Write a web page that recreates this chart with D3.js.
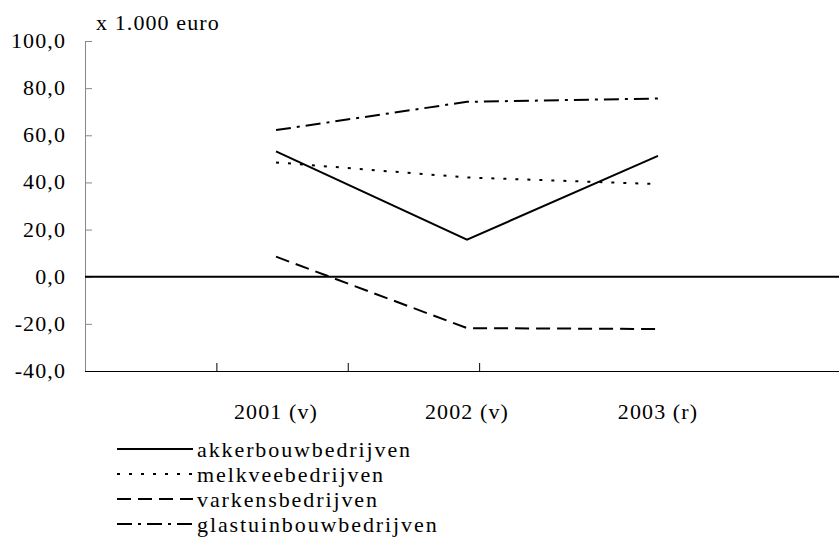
<!DOCTYPE html>
<html>
  <head>
    <meta charset="utf-8">
    <style>
    body { margin: 0; background: #fff; }
    svg { display: block; }
    text { font-family: "Liberation Serif", "Times New Roman", serif; font-size: 22px; fill: #000; letter-spacing: 1.1px; }
    </style>
    <script src="https://d3js.org/d3.v7.min.js"></script>
  </head>
  <body>
    <script type="text/javascript">
    // data
    var years = ["2001 (v)", "2002 (v)", "2003 (r)"];
    var seriesNames = ["akkerbouwbedrijven", "melkveebedrijven", "varkensbedrijven", "glastuinbouwbedrijven"];
    var akkerbouw = [53.2, 15.7, 51.3];
    var melkvee = [48.5, 42.1, 39.3];
    var varkens = [8.5, -21.8, -22.2];
    var glastuinbouw = [62.2, 74.2, 75.6];
    var yTicks = [-40, -20, 0, 20, 40, 60, 80, 100];
    var dashes = [null, "3,9", "14,7", "15,6,3,6"];

    var width = 839, height = 541;
    var plotLeft = 85, plotTop = 41, plotBottom = 371;

    var svg = d3.select("body").append("svg")
      .attr("width", width)
      .attr("height", height);

    var yScale = d3.scaleLinear().domain([-40, 100]).range([plotBottom, plotTop]);
    var xScale = d3.scalePoint().domain(years).range([plotLeft, plotLeft + 764]).padding(1);
    // minor ticks along the bottom edge
    var tickScale = d3.scaleLinear().domain([0, 5.8]).range([plotLeft, plotLeft + 762]);

    // y axis
    var yAxis = svg.append("g")
      .attr("transform", "translate(" + plotLeft + ",0)")
      .call(d3.axisRight(yScale).tickValues(yTicks).tickSize(7).tickFormat(""));
    yAxis.select(".domain").attr("stroke", "#888").attr("d", "M0.5," + plotTop + "V" + plotBottom);
    yAxis.selectAll(".tick line").attr("stroke", "#888");

    svg.selectAll(".ylab")
      .data(yTicks)
      .enter().append("text")
      .attr("class", "ylab")
      .attr("x", 66)
      .attr("y", function(d) { return yScale(d) + 7; })
      .attr("text-anchor", "end")
      .text(function(d) { return d.toFixed(1).replace(".", ","); });

    svg.append("text")
      .attr("x", 96)
      .attr("y", 30)
      .text("x 1.000 euro");

    // bottom edge
    var xAxis = svg.append("g")
      .attr("transform", "translate(0," + plotBottom + ")")
      .call(d3.axisTop(tickScale).tickValues([1, 2, 3]).tickSize(8).tickFormat(""));
    xAxis.select(".domain").attr("stroke", "#000").attr("d", "M" + plotLeft + ",0.5H" + width);

    // zero line
    svg.append("line")
      .attr("x1", plotLeft).attr("x2", width)
      .attr("y1", yScale(0)).attr("y2", yScale(0))
      .attr("stroke", "#000")
      .attr("stroke-width", 2);

    // category labels
    svg.selectAll(".xlab")
      .data(years)
      .enter().append("text")
      .attr("class", "xlab")
      .attr("x", function(d) { return xScale(d); })
      .attr("y", 419)
      .attr("text-anchor", "middle")
      .text(function(d) { return d; });

    var series = [akkerbouw, melkvee, varkens, glastuinbouw];

    var line = d3.line()
      .x(function(d, i) { return xScale(years[i]); })
      .y(function(d) { return yScale(d); });

    svg.selectAll(".series")
      .data(series)
      .enter().append("path")
      .attr("class", "series")
      .attr("d", line)
      .attr("fill", "none")
      .attr("stroke", "#000")
      .attr("stroke-width", 2)
      .attr("stroke-dasharray", function(d, i) { return dashes[i]; });

    // legend
    var legend = svg.selectAll(".legend")
      .data(seriesNames)
      .enter().append("g")
      .attr("class", "legend")
      .attr("transform", function(d, i) { return "translate(117," + (457 + i * 25) + ")"; });

    legend.append("line")
      .attr("x1", 0).attr("x2", 76)
      .attr("y1", -8).attr("y2", -8)
      .attr("stroke", "#000")
      .attr("stroke-width", 2)
      .attr("stroke-dasharray", function(d, i) { return dashes[i]; });

    legend.append("text")
      .attr("x", 80)
      .attr("y", 0)
      .style("letter-spacing", "1.9px")
      .text(function(d) { return d; });
    </script>
  </body>
</html>
